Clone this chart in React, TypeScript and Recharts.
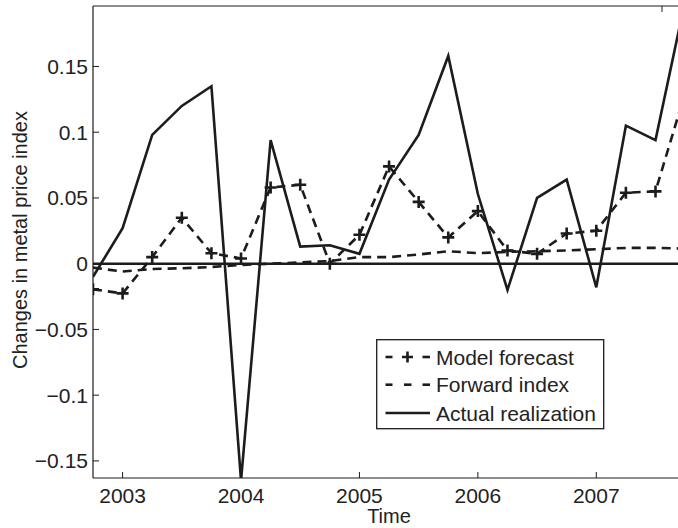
import { LineChart, Line, XAxis, YAxis, ReferenceLine, Legend } from 'recharts'

// quarterly observation dates
const quarters = [
  2002.75, 2003, 2003.25, 2003.5, 2003.75, 2004, 2004.25, 2004.5, 2004.75, 2005, 2005.25,
  2005.5, 2005.75, 2006, 2006.25, 2006.5, 2006.75, 2007, 2007.25, 2007.5, 2007.75,
]

const modelForecast = [
  -0.0195, -0.0226, 0.005, 0.035, 0.008, 0.004, 0.058, 0.06, 0.0, 0.022, 0.074,
  0.047, 0.02, 0.04, 0.01, 0.0075, 0.023, 0.025, 0.054, 0.055, 0.13,
]

const forwardIndex = [
  -0.003, -0.006, -0.004, -0.0035, -0.0025, -0.001, 0.0, 0.001, 0.002, 0.005, 0.005,
  0.007, 0.0095, 0.008, 0.009, 0.0095, 0.01, 0.011, 0.012, 0.012, 0.0115,
]

const actualRealization = [
  -0.01, 0.027, 0.098, 0.12, 0.135, -0.165, 0.094, 0.013, 0.014, 0.0075, 0.064,
  0.098, 0.158, 0.053, -0.02, 0.05, 0.064, -0.018, 0.105, 0.094, 0.2,
]

const xTicks = [2003, 2004, 2005, 2006, 2007]
const yTicks = [-0.15, -0.1, -0.05, 0, 0.05, 0.1, 0.15]

const data = quarters.map((q, i) => ({
  t: q,
  model: modelForecast[i],
  forward: forwardIndex[i],
  actual: actualRealization[i],
}))

const INK = '#1c1c1c'
const FONT = '"Liberation Sans", Arial, Helvetica, sans-serif'
const PLOT_LEFT = 93
const PLOT_TOP = 6
const PLOT_BOTTOM = 478

const fmtY = (v: number) => (v === 0 ? '0' : v < 0 ? '\u2212' + String(Math.abs(v)) : String(v))

const BottomTick = ({ x, payload }: any) => (
  <g>
    <line x1={x} x2={x} y1={PLOT_BOTTOM} y2={PLOT_BOTTOM - 6} stroke={INK} strokeWidth={1} />
    <text x={x} y={PLOT_BOTTOM + 25} textAnchor="middle" fontSize={21} fontFamily={FONT} fill="#222">
      {payload.value}
    </text>
  </g>
)

const TopTick = ({ x }: any) => (
  <line x1={x} x2={x} y1={PLOT_TOP} y2={PLOT_TOP + 6} stroke={INK} strokeWidth={1} />
)

const LeftTick = ({ y, payload }: any) => (
  <g>
    <line x1={PLOT_LEFT} x2={PLOT_LEFT + 6} y1={y} y2={y} stroke={INK} strokeWidth={1} />
    <text x={PLOT_LEFT - 5} y={y + 7.5} textAnchor="end" fontSize={21} fontFamily={FONT} fill="#222">
      {fmtY(payload.value)}
    </text>
  </g>
)

const PlusDot = (props: any) => {
  const { cx, cy, index } = props
  if (cx == null || cy == null) return <g key={`p-${index}`} />
  return (
    <path
      key={`p-${index}`}
      d={`M${cx - 6},${cy}H${cx + 6}M${cx},${cy - 6}V${cy + 6}`}
      stroke={INK}
      strokeWidth={2.6}
      fill="none"
    />
  )
}

const LegendBox = () => {
  const rows = [18, 45.7, 74]
  return (
    <svg width={229} height={91} style={{ display: 'block' }}>
      <rect x={0.7} y={0.7} width={227} height={89} fill="#fff" stroke={INK} strokeWidth={1.3} />
      {/* model forecast sample */}
      <line x1={9.5} x2={16.5} y1={rows[0]} y2={rows[0]} stroke={INK} strokeWidth={2.6} />
      <path d={`M${26},${rows[0]}H${37}M${31.5},${rows[0] - 5.5}V${rows[0] + 5.5}`} stroke={INK} strokeWidth={2.6} />
      <line x1={46.5} x2={54} y1={rows[0]} y2={rows[0]} stroke={INK} strokeWidth={2.6} />
      {/* forward index sample */}
      <line x1={9.5} x2={16.5} y1={rows[1]} y2={rows[1]} stroke={INK} strokeWidth={2.6} />
      <line x1={28} x2={35.5} y1={rows[1]} y2={rows[1]} stroke={INK} strokeWidth={2.6} />
      <line x1={46.5} x2={54} y1={rows[1]} y2={rows[1]} stroke={INK} strokeWidth={2.6} />
      {/* actual realization sample */}
      <line x1={9.5} x2={54} y1={rows[2]} y2={rows[2]} stroke={INK} strokeWidth={2.6} />
      {['Model forecast', 'Forward index', 'Actual realization'].map((s, i) => (
        <text key={s} x={60} y={rows[i] + 7.5} fontSize={21} fontFamily={FONT} fill="#222">
          {s}
        </text>
      ))}
    </svg>
  )
}

const App = () => {
  const xDomain = [2002.75, 2007.69]
  const yDomain = [-0.163, 0.196]
  return (
    <div style={{ position: 'absolute', left: 0, top: 0, background: '#fff' }}>
      <LineChart width={678} height={528} data={data} margin={{ top: 0, right: 0, left: 0, bottom: 0 }}>
        <XAxis
          dataKey="t"
          type="number"
          domain={xDomain}
          allowDataOverflow
          ticks={xTicks}
          height={50}
          axisLine={{ stroke: INK, strokeWidth: 1.2 }}
          tickLine={false}
          tick={<BottomTick />}
          label={{
            content: () => (
              <text x={389} y={523} textAnchor="middle" fontSize={20} fontFamily={FONT} fill="#222">
                Time
              </text>
            ),
          }}
        />
        <XAxis
          xAxisId="top"
          orientation="top"
          type="number"
          domain={xDomain}
          allowDataOverflow
          ticks={xTicks}
          height={PLOT_TOP}
          axisLine={{ stroke: INK, strokeWidth: 1.2 }}
          tickLine={false}
          tick={<TopTick />}
        />
        <YAxis
          type="number"
          domain={yDomain}
          allowDataOverflow
          ticks={yTicks}
          width={PLOT_LEFT}
          axisLine={{ stroke: INK, strokeWidth: 1.2 }}
          tickLine={false}
          tick={<LeftTick />}
          label={{
            content: () => (
              <text
                x={27}
                y={240}
                textAnchor="middle"
                fontSize={20}
                fontFamily={FONT}
                fill="#222"
                transform="rotate(-90, 27, 240)"
              >
                Changes in metal price index
              </text>
            ),
          }}
        />
        <ReferenceLine y={0} stroke={INK} strokeWidth={2.6} />
        <Line
          type="linear"
          dataKey="forward"
          stroke={INK}
          strokeWidth={2.6}
          strokeDasharray="9 6"
          dot={false}
          isAnimationActive={false}
        />
        <Line
          type="linear"
          dataKey="model"
          stroke={INK}
          strokeWidth={2.6}
          strokeDasharray="9 6"
          dot={PlusDot}
          activeDot={false}
          isAnimationActive={false}
        />
        <Line
          type="linear"
          dataKey="actual"
          stroke={INK}
          strokeWidth={2.6}
          dot={false}
          isAnimationActive={false}
        />
        <Legend
          layout="vertical"
          align="center"
          verticalAlign="middle"
          content={<LegendBox />}
          wrapperStyle={{ left: 376, top: 339, width: 229, height: 91 }}
        />
      </LineChart>
    </div>
  )
}

export default App
